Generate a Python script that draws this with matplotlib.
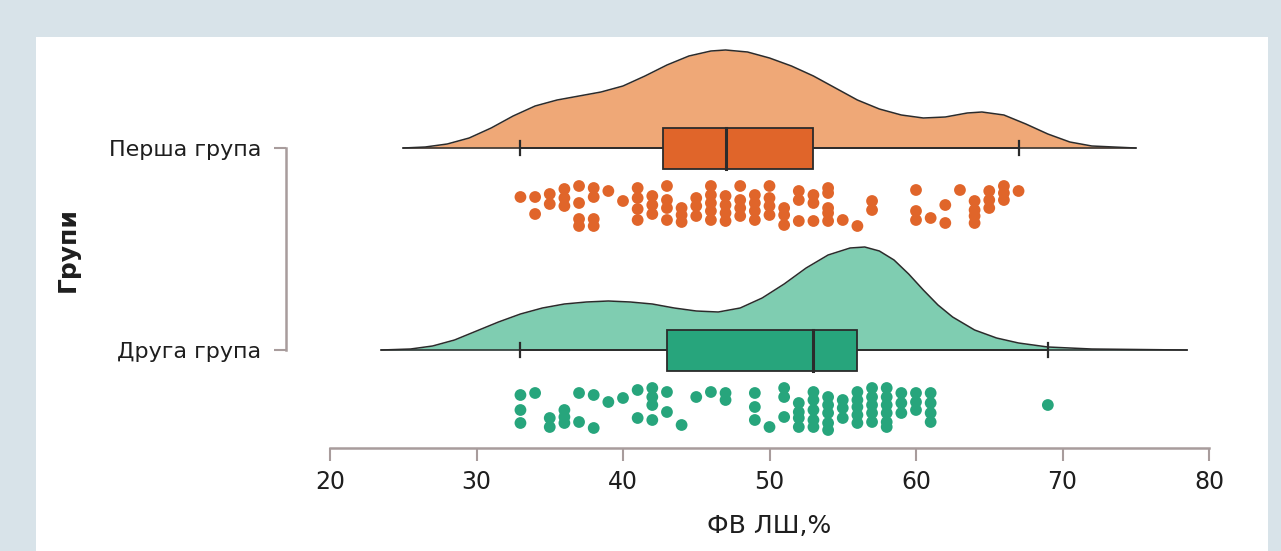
import matplotlib
matplotlib.use("Agg")
import matplotlib.pyplot as plt
from matplotlib.patches import Rectangle
import numpy as np

# групи
groups = ["Перша група", "Друга група"]

# контур щільності (x, висота у px від базової лінії)
dens1_x = [25.0, 26.5, 28.0, 29.5, 31.0, 32.5, 34.0, 35.5, 37.0, 38.5, 40.0,
           41.5, 43.0, 44.5, 46.0, 47.0, 48.5, 50.0, 51.5, 53.0, 54.5, 56.0,
           57.5, 59.0, 60.5, 62.0, 63.5, 64.5, 66.0, 67.5, 69.0, 70.5, 72.0, 75.0]
dens1_h = [0, 1, 4, 10, 20, 32, 42, 48, 52, 56, 62,
           72, 83, 92, 97, 98, 96, 90, 82, 72, 60, 48,
           39, 33, 30, 31, 35, 36, 33, 24, 14, 6, 2, 0]
dens2_x = [23.5, 25.5, 27.0, 28.5, 30.0, 31.5, 33.0, 34.5, 36.0, 37.5, 39.0,
           40.5, 42.0, 43.5, 45.0, 46.5, 48.0, 49.5, 51.0, 52.5, 54.0, 55.5,
           56.5, 57.5, 58.5, 59.5, 60.5, 61.5, 62.5, 64.0, 65.5, 67.0, 69.0,
           72.0, 78.5]
dens2_h = [0, 1, 4, 10, 19, 28, 36, 42, 46, 48, 49,
           48, 46, 42, 39, 38, 42, 52, 66, 82, 95, 102,
           103, 99, 90, 76, 60, 45, 33, 20, 12, 7, 3,
           1, 0]

# боксплоти: мін вус, Q1, медіана, Q3, макс вус
box1 = [33, 42.7, 47, 53, 67]
box2 = [33, 43, 53, 56, 69]

# точки: значення та вертикальна позиція (px)
pts1 = {
    33: [197], 34: [197, 214], 35: [194, 204], 36: [189, 198, 206],
    37: [186, 203, 219, 226], 38: [188, 197, 219, 226], 39: [191], 40: [201],
    41: [188, 198, 209, 220], 42: [196, 205, 214], 43: [186, 200, 208, 220],
    44: [208, 215, 222], 45: [198, 206, 216], 46: [186, 195, 203, 211, 220],
    47: [196, 205, 213, 221], 48: [186, 200, 208, 216], 49: [195, 203, 211, 220],
    50: [186, 198, 206, 215], 51: [208, 215, 225], 52: [191, 200, 221],
    53: [195, 203, 221], 54: [188, 193, 208, 213, 221], 55: [220], 56: [226],
    57: [201, 210], 60: [190, 211, 220], 61: [218], 62: [205, 223], 63: [190],
    64: [201, 210, 216, 223], 65: [191, 200, 208], 66: [186, 193, 200], 67: [191],
}
pts2 = {
    33: [395, 410, 423], 34: [393], 35: [418, 427], 36: [410, 417, 423],
    37: [393, 422], 38: [395, 428], 39: [402], 40: [398], 41: [390, 418],
    42: [388, 397, 405, 420], 43: [392, 412], 44: [425], 45: [397], 46: [392],
    47: [393, 400], 49: [393, 407, 420], 50: [427], 51: [388, 397, 417],
    52: [403, 412, 418, 427], 53: [392, 400, 410, 420, 427],
    54: [397, 405, 413, 423, 430], 55: [400, 408, 418],
    56: [392, 400, 407, 415, 423], 57: [388, 397, 405, 413, 422],
    58: [388, 397, 405, 413, 422, 427], 59: [393, 403, 413], 60: [393, 402, 410],
    61: [393, 403, 413, 422], 69: [405],
}

orange_fill = "#EFA877"
orange = "#E0652A"
green_fill = "#7FCDB1"
green = "#27A57C"
edge = "#2b2b2b"
axis_col = "#A89C9C"

W, H = 1281, 551
fig = plt.figure(figsize=(W / 100, H / 100), dpi=100)
fig.patch.set_facecolor("#D8E3E9")
fig.patches.append(Rectangle((36 / W, 0), (1268 - 36) / W, (H - 37) / H,
                             transform=fig.transFigure, facecolor="white",
                             edgecolor="none", zorder=-5))

# осі: 20 -> px 330, 80 -> px 1209, нижня вісь на px 448
ax = fig.add_axes([330 / W, (H - 448) / H, (1209 - 330) / W, 448 / H])
ax.set_zorder(2)
ax.set_facecolor("none")
unit = 202.0  # px між групами
base = [148, 350]
ax.set_xlim(20, 80)
ax.set_ylim((448 - base[0]) / unit, (0 - base[0]) / unit)


def py(p):
    return (p - base[0]) / unit


for i, (dx, dh, bx, pts, fcol, col) in enumerate([
        (dens1_x, dens1_h, box1, pts1, orange_fill, orange),
        (dens2_x, dens2_h, box2, pts2, green_fill, green)]):
    y0 = i
    top = [y0 - h / unit for h in dh]
    ax.fill_between(dx, y0, top, color=fcol, zorder=2, lw=0)
    ax.plot(dx, top, color=edge, lw=1.1, zorder=3)
    ax.plot([dx[0], dx[-1]], [y0, y0], color=edge, lw=1.1, zorder=3)
    # вуса
    ax.plot([bx[0], bx[1]], [y0, y0], color=edge, lw=1.3, zorder=4)
    ax.plot([bx[3], bx[4]], [y0, y0], color=edge, lw=1.3, zorder=4)
    for w in (bx[0], bx[4]):
        ax.plot([w, w], [y0 - 7 / unit, y0 + 7 / unit], color=edge, lw=1.6, zorder=4)
    hh = 20.5 / unit
    ax.add_patch(Rectangle((bx[1], y0 - hh), bx[3] - bx[1], 2 * hh,
                           facecolor=col, edgecolor=edge, lw=1.3, zorder=5))
    ax.plot([bx[2], bx[2]], [y0 - hh, y0 + hh], color=edge, lw=2.2, zorder=6)
    xs, ys = [], []
    for v, lst in pts.items():
        for p in lst:
            xs.append(v)
            ys.append(py(p))
    ax.scatter(xs, ys, s=72, color=col, edgecolor="none", zorder=4)

for s in ("top", "right"):
    ax.spines[s].set_visible(False)
ax.spines["left"].set_position(("outward", 31.7))
ax.spines["left"].set_bounds(0, 1)
ax.spines["bottom"].set_bounds(20, 80)
for s in ("left", "bottom"):
    ax.spines[s].set_color(axis_col)
    ax.spines[s].set_linewidth(1.8)

ax.set_yticks([0, 1])
ax.set_yticklabels(groups, fontsize=16, color="#1e1e1e")
ax.set_xticks(range(20, 81, 10))
ax.tick_params(axis="both", color=axis_col, width=1.5, length=9, direction="out")
ax.tick_params(axis="y", pad=9)
ax.tick_params(axis="x", labelcolor="#1e1e1e", labelsize=17, pad=7)
ax.set_xlabel("ФВ ЛШ,%", fontsize=18, color="#1e1e1e", labelpad=14)
fig.text(68 / W, 1 - 250 / H, "Групи", rotation=90, fontsize=18,
         color="#1e1e1e", ha="center", va="center", fontweight="semibold")

fig.savefig("out.png", dpi=100, facecolor=fig.get_facecolor())
